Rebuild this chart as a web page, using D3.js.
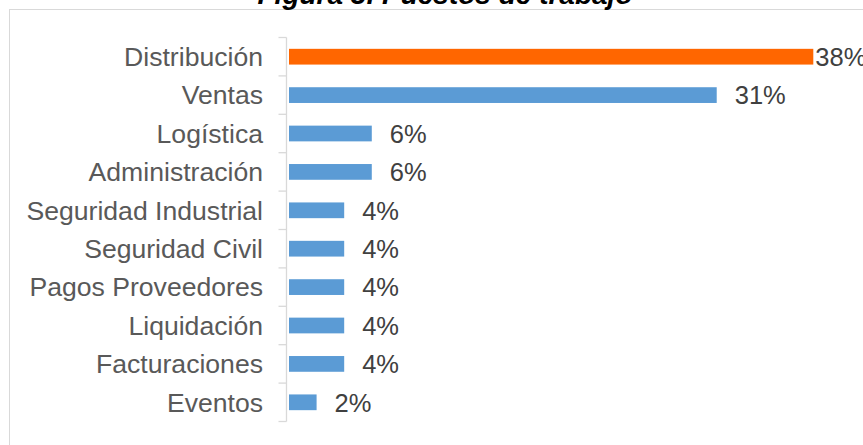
<!DOCTYPE html>
<html>
<head>
<meta charset="utf-8">
<script src="https://cdn.jsdelivr.net/npm/d3@7"></script>
<style>
  html, body { margin: 0; padding: 0; background: #fff; }
  svg { display: block; }
</style>
</head>
<body>
<svg id="chart" width="863" height="445"></svg>
<script>
// Puestos de trabajo: share of respondents by job area
const categories = ["Distribución", "Ventas", "Logística", "Administración",
  "Seguridad Industrial", "Seguridad Civil", "Pagos Proveedores",
  "Liquidación", "Facturaciones", "Eventos"];
const values = [38, 31, 6, 6, 4, 4, 4, 4, 4, 2];
const highlight = ["Distribución"];
const titleText = "Figura 3. Puestos de trabajo";

const svg = d3.select("#chart");
const font = "'Liberation Sans', Arial, sans-serif";

// Chart frame (extends past the right and bottom edges)
svg.append("rect")
  .attr("x", 9.5).attr("y", 9.5)
  .attr("width", 900).attr("height", 460)
  .attr("fill", "none")
  .attr("stroke", "#d9d9d9")
  .attr("stroke-width", 1);

// Title
svg.append("text")
  .attr("x", 445).attr("y", 4)
  .attr("text-anchor", "middle")
  .attr("font-family", font)
  .attr("font-size", 28)
  .attr("font-weight", "bold")
  .attr("font-style", "italic")
  .attr("fill", "#000")
  .text(titleText);

const axisX = 286.5;
const barX0 = 289;

const y = d3.scaleBand()
  .domain(categories)
  .range([37.5, 421.5])
  .paddingInner(0.59)
  .paddingOuter(0.295);

const x = d3.scaleLinear()
  .domain([0, d3.max(values)])
  .range([barX0, 813.3]);

const data = categories.map((c, i) => ({ c, v: values[i] }));

// Bars
svg.append("g").selectAll("rect")
  .data(data)
  .join("rect")
  .attr("x", d => x(0))
  .attr("y", d => y(d.c))
  .attr("width", d => x(d.v) - x(0))
  .attr("height", y.bandwidth())
  .attr("fill", d => highlight.includes(d.c) ? "#ff6600" : "#5b9bd5");

// Category axis: vertical line with tick marks between categories
const step = y.step();
const boundaries = d3.range(categories.length + 1).map(i => 37.5 + i * step);
const axisG = svg.append("g").attr("stroke", "#d9d9d9").attr("stroke-width", 1.3);
axisG.append("line")
  .attr("x1", axisX).attr("x2", axisX)
  .attr("y1", boundaries[0]).attr("y2", boundaries[boundaries.length - 1]);
axisG.selectAll("line.tick")
  .data(boundaries)
  .join("line")
  .attr("class", "tick")
  .attr("x1", axisX - 8).attr("x2", axisX)
  .attr("y1", d => d).attr("y2", d => d);

// Category labels
svg.append("g").selectAll("text")
  .data(data)
  .join("text")
  .attr("x", 263)
  .attr("y", d => y(d.c) + y.bandwidth() / 2 + 9.3)
  .attr("text-anchor", "end")
  .attr("font-family", font)
  .attr("font-size", 26.6)
  .attr("fill", "#595959")
  .text(d => d.c);

// Value labels
const maxV = d3.max(values);
svg.append("g").selectAll("text")
  .data(data)
  .join("text")
  .attr("x", d => x(d.v) + (d.v === maxV ? 2 : 18))
  .attr("y", d => y(d.c) + y.bandwidth() / 2 + 9.3)
  .attr("font-family", font)
  .attr("font-size", 25.5)
  .attr("fill", "#404040")
  .text(d => d.v + "%");
</script>
</body>
</html>
